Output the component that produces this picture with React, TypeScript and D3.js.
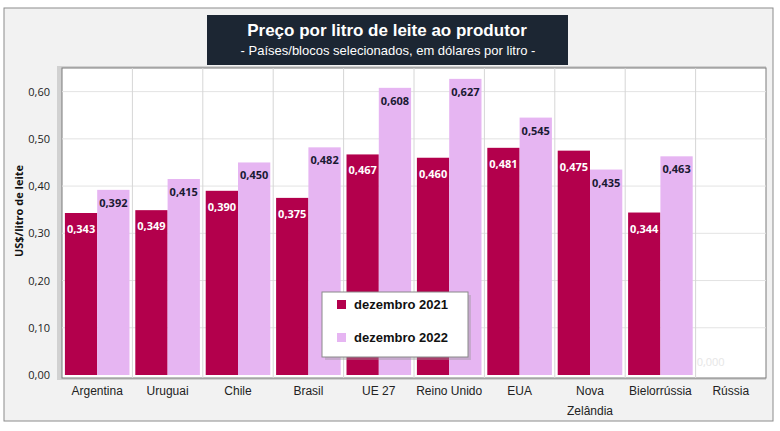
import React from 'react';
import * as d3 from 'd3';

const countries = ["Argentina", "Uruguai", "Chile", "Brasil", "UE 27", "Reino Unido", "EUA", "Nova|Zelândia", "Bielorrússia", "Rússia"];
const dez2021 = [0.343, 0.349, 0.390, 0.375, 0.467, 0.460, 0.481, 0.475, 0.344, 0];
const dez2022 = [0.392, 0.415, 0.450, 0.482, 0.608, 0.627, 0.545, 0.435, 0.463, 0];
const yTicks = [0, 0.1, 0.2, 0.3, 0.4, 0.5, 0.6];
const seriesNames = ["dezembro 2021", "dezembro 2022"];

const COL_21 = "#b3004c";
const COL_22 = "#e6b5f2";

const fmt = (v: number, d: number) => v.toFixed(d).replace(".", ",");

export default function App() {
  const width = 780, height = 431;
  const plot = { left: 62, right: 766, top: 68, bottom: 378 };

  const x = d3.scaleBand<string>().domain(countries).range([plot.left, plot.right]);
  const inner = d3.scaleBand<number>().domain([0, 1]).range([0, x.bandwidth()]).paddingOuter(0.09);
  const y = d3.scaleLinear().domain([0, 0.65]).range([375, 68]);

  const series = [dez2021, dez2022];

  return (
    <svg width={width} height={height} style={{ position: 'absolute', left: 0, top: 0 }}>
      <rect x={0} y={0} width={width} height={height} fill="#fff" />
      <rect x={4} y={8} width={769} height={413} fill="#f2f2f2" stroke="#8c8c8c" strokeWidth={1} />

      {/* plot area with shadow */}
      <rect x={plot.left - 5} y={plot.top - 2} width={plot.right - plot.left + 5} height={plot.bottom - plot.top + 4} fill="#b0b0b0" opacity={0.5} />
      <rect x={plot.left} y={plot.top} width={plot.right - plot.left} height={plot.bottom - plot.top} fill="#fff" stroke="#7a7a7a" strokeWidth={1} />

      {yTicks.slice(1).map(t => (
        <line key={t} x1={plot.left} x2={plot.right} y1={y(t)} y2={y(t)} stroke="#e3e3e3" />
      ))}
      {countries.slice(1).map(c => (
        <line key={c} x1={x(c)!} x2={x(c)!} y1={plot.top} y2={plot.bottom} stroke="#d6d6d6" />
      ))}

      {series.map((vals, si) => (
        <g key={si} fill={si === 0 ? COL_21 : COL_22}>
          {vals.map((v, i) => (
            <rect key={i} x={x(countries[i])! + inner(si)!} y={y(v)} width={inner.bandwidth()} height={y(0) - y(v)} />
          ))}
        </g>
      ))}

      {series.map((vals, si) => (
        <g key={"l" + si} fontFamily="'Open Sans', sans-serif" fontWeight={700} fontSize={11} textAnchor="middle">
          {vals.map((v, i) => {
            const cx = x(countries[i])! + inner(si)! + inner.bandwidth() / 2;
            if (v === 0) {
              return si === 0 ? (
                <text key={i} x={cx - 4} y={y(0) - 9} fill="#e6e6e6" fontWeight={400}>{fmt(v, 3)}</text>
              ) : null;
            }
            return (
              <text key={i} x={cx} y={y(v) + (si === 0 ? 20 : 17)} fill={si === 0 ? "#ffffff" : "#1a1a33"}>{fmt(v, 3)}</text>
            );
          })}
        </g>
      ))}

      {/* y axis labels */}
      <g fontFamily="'Open Sans', sans-serif" fontSize={11} fill="#222" textAnchor="end">
        {yTicks.map(t => (
          <text key={t} x={50} y={y(t) + 4}>{fmt(t, 2)}</text>
        ))}
      </g>
      <text transform="translate(23,211) rotate(-90)" textAnchor="middle" fontFamily="'Open Sans', sans-serif" fontWeight={700} fontSize={11} fill="#111">US$/litro de leite</text>

      {/* x axis labels */}
      <g fontFamily="'Liberation Sans', Arial, sans-serif" fontSize={12} fill="#222" textAnchor="middle">
        {countries.map(c => (
          <text key={c} x={x(c)! + x.bandwidth() / 2} y={395}>
            {c.split("|").map((part, j) => (
              <tspan key={j} x={x(c)! + x.bandwidth() / 2} dy={j === 0 ? 0 : 20}>{part}</tspan>
            ))}
          </text>
        ))}
      </g>

      {/* legend */}
      <rect x={325} y={295} width={146} height={65} fill="#999" opacity={0.4} />
      <rect x={322} y={292} width={146} height={65} fill="#fff" stroke="#8a8a8a" />
      {seriesNames.map((s, i) => (
        <g key={s}>
          <rect x={337} y={300 + i * 33} width={9} height={9} fill={i === 0 ? COL_21 : COL_22} />
          <text x={354} y={309 + i * 33} fontFamily="'Liberation Sans', Arial, sans-serif" fontWeight={700} fontSize={13} fill="#111">{s}</text>
        </g>
      ))}

      {/* title */}
      <rect x={207} y={15} width={361} height={50} fill="#1c2633" />
      <text x={387} y={36} textAnchor="middle" fontFamily="'Liberation Sans', Arial, sans-serif" fontWeight={700} fontSize={17} fill="#fff">Preço por litro de leite ao produtor</text>
      <text x={388} y={55} textAnchor="middle" fontFamily="'Liberation Sans', Arial, sans-serif" fontSize={13} fill="#fff">- Países/blocos selecionados, em dólares por litro -</text>
    </svg>
  );
}
